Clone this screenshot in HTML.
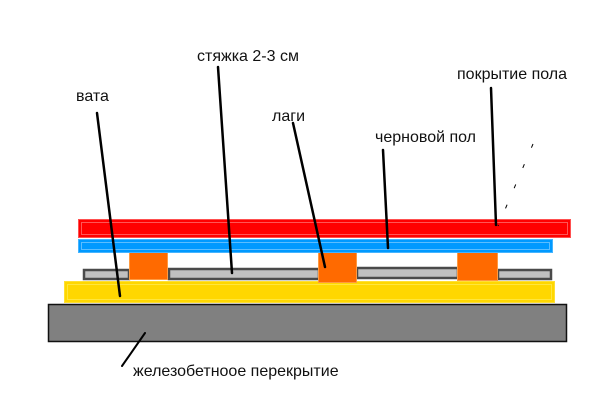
<!DOCTYPE html>
<html><head><meta charset="utf-8"><style>
body{margin:0;background:#fff}
svg text{font-family:"Liberation Sans",sans-serif;font-size:16px;fill:#111}
</style></head><body>
<svg width="600" height="400" xmlns="http://www.w3.org/2000/svg">
<rect x="48.5" y="304.5" width="518" height="37" fill="#808080" stroke="#111" stroke-width="1.5"/>
<rect x="64.5" y="281.5" width="490" height="21" fill="#ffd700" stroke="#ffe033" stroke-width="1"/>
<rect x="67.5" y="284.5" width="484" height="15" fill="none" stroke="#fff066" stroke-width="0.6"/>
<g fill="#c0c0c0" stroke="#4a4a4a" stroke-width="2.5">
<rect x="84" y="270" width="45" height="9"/>
<rect x="169" y="269" width="150" height="10"/>
<rect x="357" y="268" width="101" height="10"/>
<rect x="498" y="270" width="53" height="9"/>
</g>
<g fill="#ff6a00" stroke="#ff9a40" stroke-width="1">
<rect x="129.5" y="248.5" width="38" height="31"/>
<rect x="318.5" y="250.5" width="38" height="32"/>
<rect x="457.5" y="250.5" width="40" height="30"/>
</g>
<rect x="78.5" y="239.5" width="474" height="13" fill="#0099ff" stroke="#44b4ff" stroke-width="1"/>
<rect x="81.5" y="242.5" width="468" height="7" fill="none" stroke="#99d6ff" stroke-width="0.6"/>
<rect x="78.5" y="219.5" width="492" height="18" fill="#ff0000" stroke="#ff5050" stroke-width="1"/>
<rect x="81.5" y="222.5" width="486" height="12" fill="none" stroke="#ff9090" stroke-width="0.6"/>
<g stroke="#000" stroke-width="2.5" stroke-linecap="round">
<line x1="97" y1="113" x2="120" y2="296"/>
<line x1="218" y1="67" x2="232" y2="273"/>
<line x1="293" y1="123" x2="325" y2="267"/>
<line x1="383" y1="150" x2="388" y2="248"/>
<line x1="491" y1="88" x2="496" y2="225"/>
<line x1="145" y1="333" x2="122" y2="366" stroke-width="2"/>
</g>
<line x1="533" y1="144" x2="498" y2="226" stroke="#000" stroke-width="1" stroke-dasharray="4,18"/>
<text x="197" y="61">стяжка 2-3 см</text>
<text x="76" y="101">вата</text>
<text x="272" y="121">лаги</text>
<text x="375" y="142">черновой пол</text>
<text x="457" y="79">покрытие пола</text>
<text x="133" y="376">железобетнооe перекрытие</text>
</svg>
</body></html>
